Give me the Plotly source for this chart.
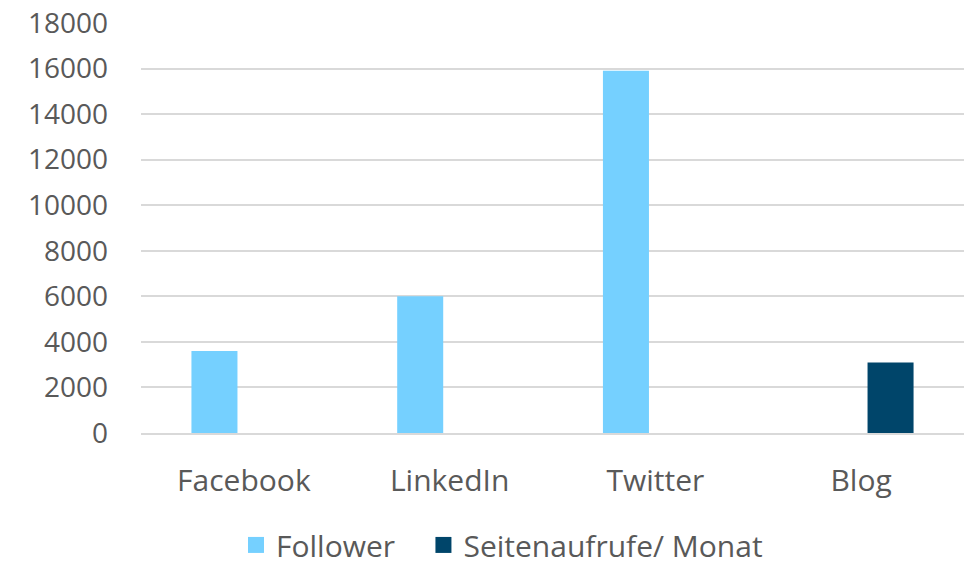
import plotly.graph_objects as go

categories = ["Facebook", "LinkedIn", "Twitter", "Blog"]
follower = [3600, 6000, 15900, None]
seitenaufrufe = [None, None, None, 3100]
y_ticks = [0, 2000, 4000, 6000, 8000, 10000, 12000, 14000, 16000, 18000]
y_tick_labels = [str(v) for v in y_ticks]
series_names = ["Follower", "Seitenaufrufe/ Monat"]
series_colors = ["#75D0FF", "#00456A"]

FONT = "Open Sans"
TXT = "#595959"

fig = go.Figure()
for name, vals, col in zip(series_names, [follower, seitenaufrufe], series_colors):
    fig.add_trace(go.Bar(x=categories, y=vals, name=name, showlegend=False,
                         marker=dict(color=col, line=dict(width=0))))
# legend-only entries with bigger square swatches
legend_pad = ["\u00a0\u00a0\u00a0", ""]
for name, col, pad in zip(series_names, series_colors, legend_pad):
    fig.add_trace(go.Scatter(x=[None], y=[None], mode="markers", name=name + pad,
                             marker=dict(symbol="square", size=21, color=col),
                             showlegend=True))

fig.update_layout(
    width=972, height=563,
    margin=dict(l=141, r=8, t=23, b=130, autoexpand=False),
    paper_bgcolor="white", plot_bgcolor="white",
    barmode="group", bargap=0.428, bargroupgap=0.218,
    font=dict(family=FONT, color=TXT, size=30),
    showlegend=True,
    legend=dict(orientation="h", x=0.1154, xanchor="left", y=-0.273, yanchor="middle",
                font=dict(size=30, color=TXT), itemwidth=30,
                traceorder="normal"),
)
fig.update_yaxes(range=[0, 18000], tickvals=y_ticks, ticktext=y_tick_labels,
                 showgrid=True, gridcolor="#D9D9D9", automargin=False,
                 gridwidth=1.5, zeroline=False, showline=False, ticks="",
                 ticklabelstandoff=32, tickfont=dict(size=28, color=TXT))
fig.update_xaxes(showgrid=False, showline=True, linecolor="#D9D9D9", linewidth=1.5,
                 automargin=False,
                 ticks="", ticklabelstandoff=20, tickfont=dict(size=30, color=TXT))

fig.write_html("out.html", config={"displayModeBar": False},
               post_script="document.body.style.margin='0';document.body.style.overflow='hidden';")
